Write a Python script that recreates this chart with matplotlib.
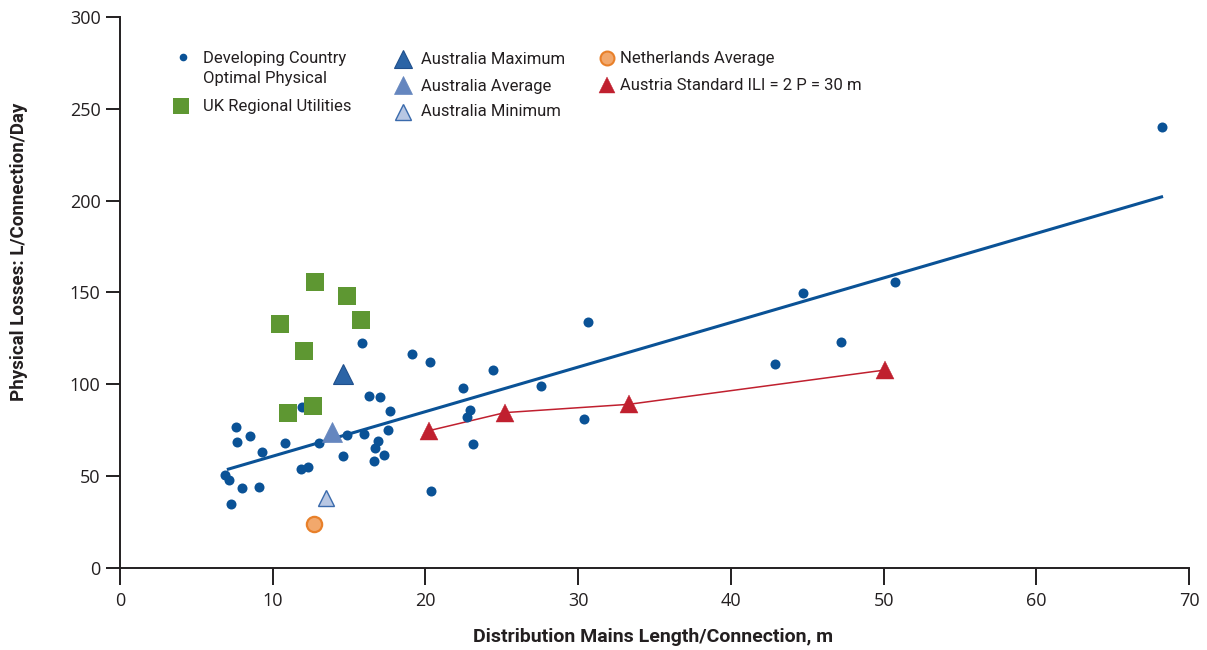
import matplotlib
matplotlib.use("Agg")
import matplotlib.pyplot as plt

# ---------------- data ----------------
dev_x = [6.9, 7.14, 7.25, 7.62, 7.69, 8.0, 8.52, 9.07, 9.31, 10.83, 11.84, 11.95, 12.3,
         13.06, 14.6, 14.88, 15.87, 15.99, 16.3, 16.6, 16.69, 16.87, 17.04, 17.3, 17.58,
         17.7, 19.1, 20.3, 20.36, 22.46, 22.74, 22.92, 23.14, 24.45, 27.6, 30.41, 30.67,
         42.9, 44.7, 47.2, 50.76, 68.2]
dev_y = [50.5, 47.8, 34.8, 76.5, 68.7, 43.6, 71.7, 44.2, 63.0, 68.1, 53.8, 87.7, 55.1,
         68.1, 61.2, 72.4, 122.7, 72.8, 93.9, 58.2, 65.4, 69.4, 92.9, 61.4, 75.2,
         85.3, 116.3, 112.4, 42.1, 98.0, 82.2, 85.9, 67.6, 108.0, 98.9, 81.1, 134.2,
         111.3, 149.8, 122.8, 155.6, 240.0]

trend_x = [7.0, 68.3]
trend_y = [53.6, 202.3]

uk_x = [12.8, 14.89, 15.75, 10.5, 12.08, 12.67, 10.97]
uk_y = [155.6, 148.2, 135.2, 133.0, 118.3, 88.4, 84.6]

aus_max = (14.6, 105.6)
aus_avg = (13.9, 74.1)
aus_min = (13.48, 38.2)
neth_avg = (12.73, 23.9)

austria_x = [20.25, 25.2, 33.3, 50.1]
austria_y = [74.8, 84.6, 89.1, 107.8]

x_ticks = [0, 10, 20, 30, 40, 50, 60, 70]
y_ticks = [0, 50, 100, 150, 200, 250, 300]

x_label = "Distribution Mains Length/Connection, m"
y_label = "Physical Losses: L/Connection/Day"
legend_labels = ["Developing Country\nOptimal Physical", "UK Regional Utilities",
                 "Australia Maximum", "Australia Average", "Australia Minimum",
                 "Netherlands Average", "Austria Standard ILI = 2 P = 30 m"]

# ---------------- styles ----------------
BLUE = "#0a5296"
GREEN = "#5e9732"
AMAX = "#2b64a6"
AMAX_E = "#1f4f8c"
AAVG = "#6586bf"
AMIN = "#b8c7e3"
AMIN_E = "#3a6aac"
ORANGE_F = "#f2a86c"
ORANGE_E = "#e8802a"
RED = "#c0202f"
AXC = "#231f20"

W, H = 1207, 650
fig = plt.figure(figsize=(W / 100, H / 100), dpi=100)
L, R, T, B = 120, 1189, 17, 568
ax = fig.add_axes([L / W, 1 - B / H, (R - L) / W, (B - T) / H])

ax.set_xlim(0, 70)
ax.set_ylim(0, 300)

# trend line & data
ax.plot(trend_x, trend_y, color=BLUE, lw=2.2, zorder=3, solid_capstyle="butt")
ax.plot(austria_x, austria_y, color=RED, lw=1.1, zorder=3)
ax.scatter(dev_x, dev_y, s=52, color=BLUE, linewidths=0, zorder=4)
ax.scatter(uk_x, uk_y, marker="s", s=150, color=GREEN, linewidths=0, zorder=4)
ax.plot([aus_max[0]], [aus_max[1]], marker="^", ms=14, color=AMAX, mec=AMAX_E, mew=0.8, ls="none", zorder=5)
ax.plot([aus_avg[0]], [aus_avg[1]], marker="^", ms=14, color=AAVG, mec=AAVG, mew=0.5, ls="none", zorder=5)
ax.plot([aus_min[0]], [aus_min[1]], marker="^", ms=12, color=AMIN, mec=AMIN_E, mew=1.0, ls="none", zorder=5)
ax.plot([neth_avg[0]], [neth_avg[1]], marker="o", ms=11, color=ORANGE_F, mec=ORANGE_E, mew=1.6, ls="none", zorder=5)
ax.plot(austria_x, austria_y, marker="^", ms=13, color=RED, mec=RED, mew=0.3, ls="none", zorder=5)

# axes styling
for s in ["top", "right"]:
    ax.spines[s].set_visible(False)
for s in ["left", "bottom"]:
    ax.spines[s].set_color(AXC)
    ax.spines[s].set_linewidth(1.4)

ax.set_xticks(x_ticks)
ax.set_yticks(y_ticks)
ax.tick_params(axis="x", direction="out", length=12, width=1.4, color=AXC, pad=5,
               labelsize=13, labelcolor=AXC)
ax.tick_params(axis="y", direction="out", length=10, width=1.4, color=AXC, pad=4,
               labelsize=13, labelcolor=AXC)
for lab in ax.get_xticklabels() + ax.get_yticklabels():
    lab.set_family(["Open Sans", "DejaVu Sans"])

ax.set_xlabel(x_label, fontsize=14, fontweight="bold", family=["Roboto", "DejaVu Sans"], color=AXC)
ax.set_ylabel(y_label, fontsize=13.5, fontweight="bold", family=["Roboto", "DejaVu Sans"], color=AXC)
ax.xaxis.set_label_coords((653 - L) / (R - L), (B - 628) / (B - T))
ax.yaxis.set_label_coords((28 - L) / (R - L), (B - 252) / (B - T))

# ---------------- manual legend ----------------
def fp(px, py):
    return px / W, 1 - py / H

leg_font = dict(fontsize=12, family=["Roboto", "DejaVu Sans"], color=AXC,
                transform=fig.transFigure, va="center", ha="left")

def leg_marker(px, py, **kw):
    x, y = fp(px, py)
    fig.add_artist(plt.Line2D([x], [y], transform=fig.transFigure, ls="none", **kw))

# column 1
leg_marker(183, 56.5, marker="o", ms=5.5, color=BLUE, mew=0)
fig.text(*fp(203, 59), legend_labels[0].split("\n")[0], **leg_font)
fig.text(*fp(203, 79), legend_labels[0].split("\n")[1], **leg_font)
leg_marker(181, 106, marker="s", ms=11, color=GREEN, mew=0)
fig.text(*fp(203, 106), legend_labels[1], **leg_font)

# column 2
leg_marker(403, 58.5, marker="^", ms=13.5, color=AMAX, mec=AMAX_E, mew=0.8)
fig.text(*fp(421, 59), legend_labels[2], **leg_font)
leg_marker(403, 84.5, marker="^", ms=13.5, color=AAVG, mec=AAVG, mew=0.5)
fig.text(*fp(421, 86), legend_labels[3], **leg_font)
leg_marker(403, 112, marker="^", ms=11.5, color=AMIN, mec=AMIN_E, mew=1.0)
fig.text(*fp(421, 112), legend_labels[4], **leg_font)

# column 3
leg_marker(607, 58, marker="o", ms=10, color=ORANGE_F, mec=ORANGE_E, mew=1.5)
fig.text(*fp(620, 59), legend_labels[5], **leg_font)
leg_marker(607, 85, marker="^", ms=11.5, color=RED, mec=RED, mew=0.3)
fig.text(*fp(620, 86), legend_labels[6], **leg_font)

fig.savefig("out.png", dpi=100, facecolor="white")
